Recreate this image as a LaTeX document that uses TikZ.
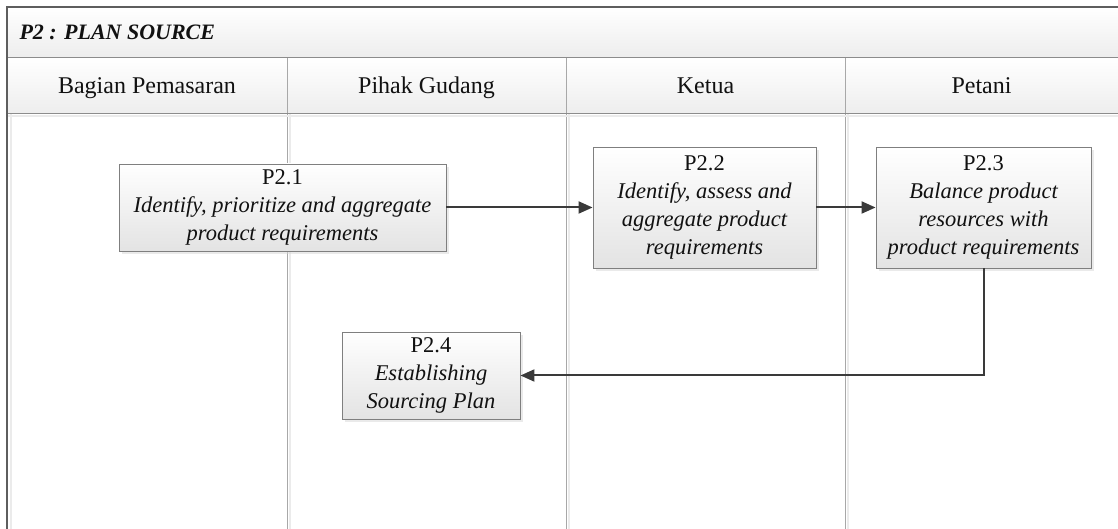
\documentclass[tikz,border=0pt]{standalone}
\usepackage{fontspec}
\setmainfont{Liberation Serif}
\usetikzlibrary{arrows.meta,shadows}
\definecolor{framegray}{HTML}{5E5E5E}
\definecolor{rulegray}{HTML}{8C8C8C}
\definecolor{lanegray}{HTML}{A8A8A8}
\definecolor{laneshade}{HTML}{EBEBEB}
\definecolor{barbottom}{HTML}{EDEDED}
\definecolor{boxedge}{HTML}{7F7F7F}
\definecolor{boxbottom}{HTML}{E3E3E3}
\definecolor{linkgray}{HTML}{3A3A3A}
\definecolor{inkblack}{HTML}{111111}
\newcommand\procfont{\fontsize{22.5}{28}\selectfont}
\newcommand\headfont{\fontsize{24}{28}\selectfont}
\newcommand\titlefont{\fontsize{22}{28}\selectfont\bfseries\itshape}
\tikzset{
  proc/.style={draw=boxedge, line width=0.9pt, top color=white, bottom color=boxbottom,
    drop shadow={shadow xshift=3pt, shadow yshift=-3pt, fill=black!16},
    align=center, inner sep=0pt, text=inkblack, font=\procfont},
  lanehead/.style={anchor=base, text=inkblack, font=\headfont},
  lanerule/.style={draw=lanegray, line width=1pt},
  laneglow/.style={draw=laneshade, line width=1.6pt},
  link/.style={draw=linkgray, line width=2pt, -{Triangle[length=14pt,width=12pt]}}
}
\begin{document}
\begin{tikzpicture}[x=1pt,y=1pt]
\useasboundingbox (0,0) rectangle (1118,529);
% title bar and lane header band
\path[top color=white, bottom color=barbottom] (7,522) rectangle (1118,471);
\path[top color=white, bottom color=barbottom] (7,471) rectangle (1118,415);
% lane separators with their soft shadow
\foreach \lx in {287,566,845}{
  \draw[laneglow] (\lx+3,415) -- (\lx+3,0);
  \draw[lanerule] (\lx,471) -- (\lx,0);
}
\draw[laneglow] (11,415) -- (11,0);
\draw[laneshade, line width=2pt] (7,412.5) -- (1118,412.5);
% horizontal rules
\draw[rulegray, line width=1pt] (7,471) -- (1118,471);
\draw[rulegray, line width=1pt] (7,415) -- (1118,415);
% outer frame
\draw[framegray, line width=1.3pt] (1118,522) -- (7,522) -- (7,0);
% titles
\node[anchor=base west, text=inkblack, font=\titlefont] (title) at (16,489) {P2 : PLAN SOURCE};
\node[lanehead] (h1) at (147,435) {Bagian Pemasaran};
\node[lanehead] (h2) at (426.5,435) {Pihak Gudang};
\node[lanehead] (h3) at (705.5,435) {Ketua};
\node[lanehead] (h4) at (981.5,435) {Petani};
% process steps
\node[proc, minimum width=327pt, minimum height=87pt] (p21) at (282.5,321.5)
  {P2.1\\\itshape Identify, prioritize and aggregate\\\itshape product requirements};
\node[proc, minimum width=223pt, minimum height=121pt] (p22) at (704.5,321.5)
  {P2.2\\\itshape Identify, assess and\\\itshape aggregate product\\\itshape requirements};
\node[proc, minimum width=215pt, minimum height=121pt] (p23) at (983.5,321.5)
  {P2.3\\\itshape Balance product\\\itshape resources with\\\itshape product requirements};
\node[proc, minimum width=178pt, minimum height=87pt] (p24) at (431,153.5)
  {P2.4\\\itshape Establishing\\\itshape Sourcing Plan};
% flow
\draw[link] (p21.east) -- (p22.west);
\draw[link] (p22.east) -- (p23.west);
\draw[link] (p23.south) |- (p24.east);
\end{tikzpicture}
\end{document}
